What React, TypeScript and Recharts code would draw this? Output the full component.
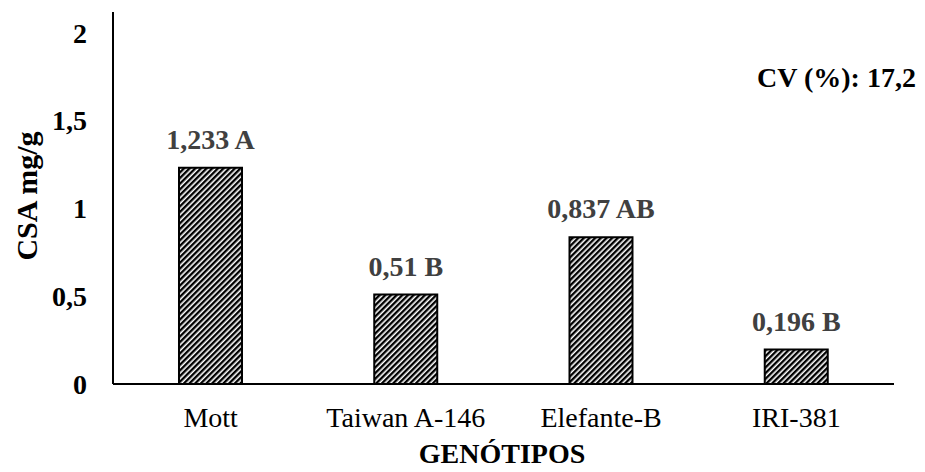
import React from "react";
import { BarChart, Bar, XAxis, YAxis, LabelList } from "recharts";

const categories = ["Mott", "Taiwan A-146", "Elefante-B", "IRI-381"];
const values = [1.233, 0.51, 0.837, 0.196];
const letters = ["A", "B", "AB", "B"];
const yTicks = [0, 0.5, 1, 1.5, 2];

const data = categories.map((c, i) => ({ name: c, value: values[i], letter: letters[i] }));

const fmt = (v: number) => String(v).replace(".", ",");
const FONT = "'Liberation Serif', 'Times New Roman', serif";

const renderLabel = (props: any) => {
  const { x, y, width, index } = props;
  const d = data[index];
  return (
    <text
      x={x + width / 2}
      y={y - 19}
      textAnchor="middle"
      fontFamily={FONT}
      fontWeight="bold"
      fontSize={28}
      fill="#404040"
    >
      {`${fmt(d.value)} ${d.letter}`}
    </text>
  );
};

const XTick = (props: any) => {
  const { x, y, payload } = props;
  return (
    <text x={x} y={y + 43} textAnchor="middle" fontFamily={FONT} fontSize={28} fill="#000">
      {payload.value}
    </text>
  );
};

const YTick = (props: any) => {
  const { x, y, payload } = props;
  return (
    <text x={x - 26} y={y + 9.5} textAnchor="end" fontFamily={FONT} fontWeight="bold" fontSize={28} fill="#000">
      {fmt(payload.value)}
    </text>
  );
};

export default function App() {
  return (
    <div style={{ position: "absolute", left: 0, top: 0, width: 925, height: 472, background: "#fff" }}>
      <BarChart
        width={925}
        height={472}
        data={data}
        margin={{ top: 12, right: 31, bottom: 0, left: 0 }}
        barCategoryGap="33.8%"
      >
        <defs>
          <pattern id="hatch" patternUnits="userSpaceOnUse" width="4" height="4" patternTransform="rotate(45)">
            <rect width="4" height="4" fill="#fff" />
            <rect x="0" y="0" width="2.4" height="4" fill="#000" />
          </pattern>
        </defs>
        <XAxis
          dataKey="name"
          axisLine={{ stroke: "#000", strokeWidth: 2 }}
          tickLine={false}
          tickSize={0}
          tickMargin={0}
          height={88}
          interval={0}
          tick={<XTick />}
        />
        <YAxis
          domain={[0, 2.12]}
          ticks={yTicks}
          interval={0}
          allowDataOverflow
          axisLine={{ stroke: "#000", strokeWidth: 2 }}
          tickLine={false}
          tickSize={0}
          tickMargin={0}
          width={113}
          tick={<YTick />}
        />
        <Bar dataKey="value" fill="url(#hatch)" stroke="#000" strokeWidth={2} isAnimationActive={false}>
          <LabelList dataKey="value" content={renderLabel} />
        </Bar>
        <text
          x={37}
          y={196}
          transform="rotate(-90 37 196)"
          textAnchor="middle"
          fontFamily={FONT}
          fontWeight="bold"
          fontSize={30}
          fill="#000"
        >
          CSA mg/g
        </text>
        <text x={502} y={463} textAnchor="middle" fontFamily={FONT} fontWeight="bold" fontSize={28} fill="#000">
          GENÓTIPOS
        </text>
        <text x={757} y={87} textAnchor="start" fontFamily={FONT} fontWeight="bold" fontSize={28} fill="#000">
          CV (%): 17,2
        </text>
      </BarChart>
    </div>
  );
}
